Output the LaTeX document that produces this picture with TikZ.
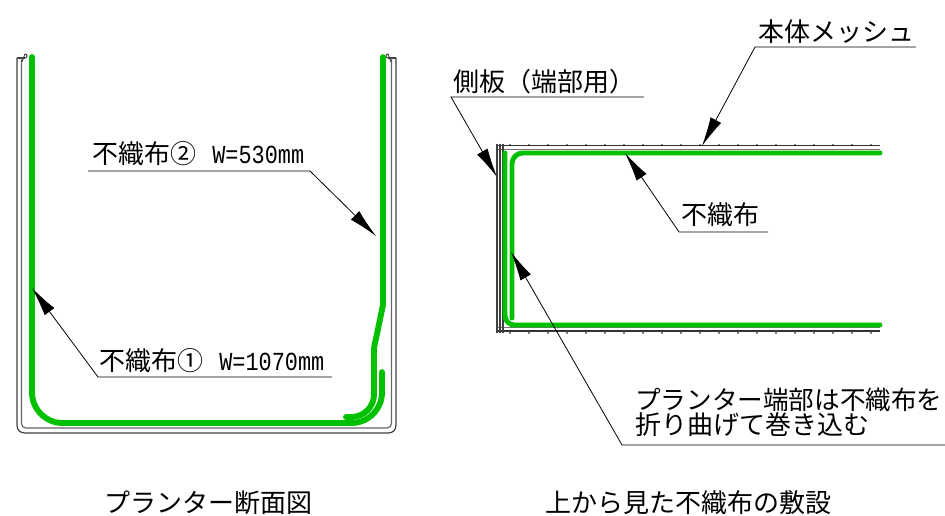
\documentclass[tikz,border=0pt]{standalone}
\usepackage{fontspec}
\setmainfont{Noto Sans CJK JP}
\newfontfamily\latin{Liberation Mono}
\usetikzlibrary{arrows.meta}
\definecolor{feltgreen}{RGB}{0,192,0}
\tikzset{
 x=0.75pt,y=-0.75pt,
 wall/.style={draw=black!75,line width=0.9pt},
 felt/.style={draw=feltgreen,line width=4.4pt,line cap=round,line join=round},
 lead/.style={draw=black,line width=0.6pt},
 tip/.style={-{Latex[length=22pt,width=9pt]}},
 lab/.style={inner sep=0pt,font=\fontsize{19.5pt}{21pt}\selectfont,anchor=base west},
}
\newcommand{\W}[1]{\scalebox{0.84}[1]{\latin #1}}
\begin{document}
\begin{tikzpicture}
\useasboundingbox (0,0) rectangle (945,516);
% left section
\draw[wall] (17,58)--(17,425) .. controls (17,430) and (20,433) .. (25,433)--(388,433) .. controls (393,433) and (396,430) .. (396,425)--(396,58);
\draw[wall] (17,58)--(25,58);
\draw[wall] (388,58)--(396,58);
\draw[wall,draw=black!60] (21.5,58)--(21.5,423) .. controls (21.5,426) and (23,428) .. (26,428)--(387,428) .. controls (390,428) and (391.5,426) .. (391.5,423)--(391.5,58);
\draw[wall,line width=0.7pt] (25,58) arc[start angle=90,end angle=-90,radius=2]--(22,62);
\draw[wall,line width=0.7pt] (388,58) arc[start angle=90,end angle=270,radius=2]--(391,62);
\draw[felt,rounded corners=23pt] (32,57)--(32,423)--(382,423)--(382,372);
\draw[felt] (383,57)--(383,305)--(374,348)--(374,385);
\draw[felt,rounded corners=17pt] (374,380)--(374,417)--(346,417);
% right section
\foreach \y in {145.5,331}{\draw[black!80,line width=0.9pt] (497,\y)--(880,\y);}
\foreach \y in {149,327.5}{\draw[black!55,line width=0.7pt] (497,\y)--(880,\y);}
\foreach \x in {497,500,503}{\draw[black!75,line width=0.9pt] (\x,144)--(\x,333);}
\foreach \x in {510,529,...,880}{\fill (\x,145) circle (0.9); \fill (\x,333) circle (0.9);}
\draw[felt,line width=3.7pt,rounded corners=8pt] (880,153)--(512,153)--(512,318);
\draw[felt,line width=3.7pt,rounded corners=7pt] (505,153)--(505,325)--(880,325);
% labels and leaders
\coordinate (a1) at (32,288);
\coordinate (a2) at (376,236);
\coordinate (a3) at (702,146);
\coordinate (a4) at (625,153);
\coordinate (a5) at (497,177);
\coordinate (a6) at (511,252);
\node[lab] (n2) at (92,164) {不織布②\hspace{0.62em}\W{W=530mm}};
\node[lab] (n1) at (99,370) {不織布①\hspace{0.62em}\W{W=1070mm}};
\node[lab] (hontai) at (758,42) {本体メッシュ};
\node[lab] (gawa) at (453,92) {側板（端部用）};
\node[lab] (fu) at (681,225) {不織布};
\node[lab,font=\fontsize{19.2pt}{21pt}\selectfont] (ori1) at (635,409) {プランター端部は不織布を};
\node[lab] (ori2) at (635,434) {折り曲げて巻き込む};
\node[lab] (cap1) at (104,512) {プランター断面図};
\node[lab] (cap2) at (545,512) {上から見た不織布の敷設};
\draw[lead,tip] (88,171)--(310,171)--(a2);
\draw[lead,tip] (332,377)--(98,377)--(a1);
\draw[lead,tip] (916,47)--(755,47)--(a3);
\draw[lead,tip] (644,97)--(451,97)--(a5);
\draw[lead,tip] (768,232)--(679,232)--(a4);
\draw[lead,tip] (945,445)--(622,445)--(a6);
\end{tikzpicture}
\end{document}
